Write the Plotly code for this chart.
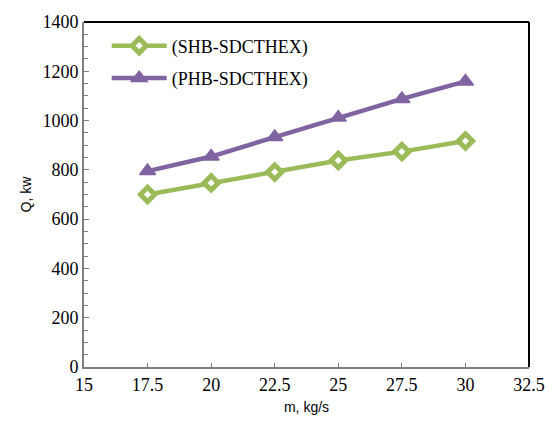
import plotly.graph_objects as go

m_values = [17.5, 20, 22.5, 25, 27.5, 30]
shb_q = [700, 747, 791, 838, 874, 917]
phb_q = [795, 854, 933, 1012, 1088, 1159]
series_names = ["(SHB-SDCTHEX)", "(PHB-SDCTHEX)"]
x_ticks = [15, 17.5, 20, 22.5, 25, 27.5, 30, 32.5]
y_ticks = [0, 200, 400, 600, 800, 1000, 1200, 1400]

green = "#9BBB59"
purple = "#8064A2"

fig = go.Figure()
fig.add_trace(go.Scatter(
    x=m_values, y=shb_q, name=series_names[0], mode="lines+markers", legendgroup="a",
    line=dict(color=green, width=4.5),
    marker=dict(symbol="diamond", size=11, color="white", line=dict(color=green, width=5)),
))
fig.add_trace(go.Scatter(
    x=m_values, y=phb_q, name=series_names[1], mode="lines+markers", legendgroup="b",
    line=dict(color=purple, width=4.5),
    marker=dict(symbol="triangle-up", size=14, color=purple, line=dict(color=purple, width=1.5)),
))

fig.update_layout(
    width=557, height=425,
    margin=dict(l=84, r=25, t=15, b=56),
    paper_bgcolor="white", plot_bgcolor="white",
    showlegend=True,
    legend=dict(x=0.051, y=0.984, xanchor="left", yanchor="top",
                font=dict(family="Liberation Serif", size=18, color="black"),
                bgcolor="rgba(0,0,0,0)", traceorder="grouped", tracegroupgap=6, itemwidth=55),
    xaxis=dict(range=[15, 32.5], tickvals=x_ticks, ticktext=[str(v) for v in x_ticks],
               showgrid=False, zeroline=False, showline=True, linecolor="#808080", linewidth=2,
               ticks="inside", ticklen=4, tickcolor="#808080",
               tickfont=dict(family="Liberation Serif", size=18, color="black"),
               title=dict(text="m, kg/s", font=dict(family="Liberation Sans", size=14, color="black"), standoff=9)),
    yaxis=dict(range=[0, 1400], tickvals=y_ticks,
               showgrid=False, zeroline=False, showline=True, linecolor="#808080", linewidth=2,
               ticks="inside", ticklen=5, tickcolor="#808080",
               minor=dict(ticks="inside", ticklen=4, tickcolor="#808080", dtick=50),
               tickfont=dict(family="Liberation Serif", size=18, color="black"),
               title=dict(text="Q, kw", font=dict(family="Liberation Sans", size=14, color="black"), standoff=8)),
    shapes=[
        dict(type="line", xref="paper", yref="paper", x0=0, x1=1, y0=1, y1=1, line=dict(color="black", width=2)),
        dict(type="line", xref="paper", yref="paper", x0=1, x1=1, y0=0, y1=1, line=dict(color="black", width=2)),
    ],
)

fig.write_html("out.html", config={"displayModeBar": False},
               post_script="document.body.style.margin='0';document.body.style.padding='0';")
